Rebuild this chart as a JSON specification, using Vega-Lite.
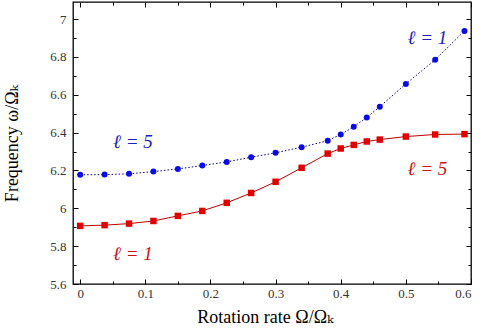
{
  "$schema": "https://vega.github.io/schema/vega-lite/v6.json",
  "width": 398,
  "height": 282,
  "autosize": "none",
  "padding": {"left": 73, "top": 2, "right": 11, "bottom": 48},
  "background": "white",
  "config": {
    "view": {"stroke": "black", "strokeWidth": 1.3},
    "font": "'Liberation Serif', 'DejaVu Serif', serif",
    "axis": {
      "labelFont": "'Liberation Serif', 'DejaVu Serif', serif",
      "titleFont": "'Liberation Serif', 'DejaVu Serif', serif",
      "labelFontSize": 13,
      "titleFontSize": 18,
      "titleFontWeight": "normal",
      "labelColor": "#333333",
      "titleColor": "black",
      "grid": false,
      "domain": false,
      "tickColor": "black",
      "tickWidth": 1
    }
  },
  "datasets": {
    "pts": [
      {"x": 0, "y": 6.177, "series": "upper"},
      {"x": 0.0375, "y": 6.178, "series": "upper"},
      {"x": 0.075, "y": 6.182, "series": "upper"},
      {"x": 0.1125, "y": 6.194, "series": "upper"},
      {"x": 0.15, "y": 6.208, "series": "upper"},
      {"x": 0.1875, "y": 6.226, "series": "upper"},
      {"x": 0.225, "y": 6.245, "series": "upper"},
      {"x": 0.2625, "y": 6.27, "series": "upper"},
      {"x": 0.3, "y": 6.293, "series": "upper"},
      {"x": 0.34, "y": 6.323, "series": "upper"},
      {"x": 0.38, "y": 6.357, "series": "upper"},
      {"x": 0.4, "y": 6.39, "series": "upper"},
      {"x": 0.42, "y": 6.431, "series": "upper"},
      {"x": 0.44, "y": 6.48, "series": "upper"},
      {"x": 0.46, "y": 6.537, "series": "upper"},
      {"x": 0.5, "y": 6.657, "series": "upper"},
      {"x": 0.545, "y": 6.785, "series": "upper"},
      {"x": 0.59, "y": 6.937, "series": "upper"},
      {"x": 0, "y": 5.907, "series": "lower"},
      {"x": 0.0375, "y": 5.911, "series": "lower"},
      {"x": 0.075, "y": 5.919, "series": "lower"},
      {"x": 0.1125, "y": 5.933, "series": "lower"},
      {"x": 0.15, "y": 5.96, "series": "lower"},
      {"x": 0.1875, "y": 5.986, "series": "lower"},
      {"x": 0.225, "y": 6.029, "series": "lower"},
      {"x": 0.2625, "y": 6.081, "series": "lower"},
      {"x": 0.3, "y": 6.14, "series": "lower"},
      {"x": 0.34, "y": 6.214, "series": "lower"},
      {"x": 0.38, "y": 6.289, "series": "lower"},
      {"x": 0.4, "y": 6.316, "series": "lower"},
      {"x": 0.42, "y": 6.335, "series": "lower"},
      {"x": 0.44, "y": 6.353, "series": "lower"},
      {"x": 0.46, "y": 6.363, "series": "lower"},
      {"x": 0.5, "y": 6.379, "series": "lower"},
      {"x": 0.545, "y": 6.39, "series": "lower"},
      {"x": 0.59, "y": 6.392, "series": "lower"}
    ],
    "labels": [
      {"x": 0.081, "y": 6.351, "label": "ℓ = 5", "series": "upper"},
      {"x": 0.533, "y": 6.9, "label": "ℓ = 1", "series": "upper"},
      {"x": 0.081, "y": 5.759, "label": "ℓ = 1", "series": "lower"},
      {"x": 0.533, "y": 6.208, "label": "ℓ = 5", "series": "lower"}
    ]
  },
  "layer": [
    {
      "data": {"name": "pts"},
      "transform": [{"filter": "datum.series === 'lower'"}],
      "mark": {"type": "line", "color": "#c00000", "strokeWidth": 1},
      "encoding": {
        "x": {"field": "x", "type": "quantitative", "scale": {"domain": [-0.011, 0.6], "nice": false, "zero": false},
          "axis": {"orient": "bottom", "values": [0, 0.1, 0.2, 0.3, 0.4, 0.5, 0.6], "format": "~g", "tickSize": -5, "labelPadding": 8, "title": "Rotation rate Ω/Ωₖ", "titlePadding": 8, "titleX": 192}},
        "y": {"field": "y", "type": "quantitative", "scale": {"domain": [5.6, 7.09], "nice": false, "zero": false},
          "axis": {"orient": "left", "values": [5.6, 5.8, 6, 6.2, 6.4, 6.6, 6.8, 7], "format": "~g", "tickSize": -5, "labelPadding": 12, "title": "Frequency ω/Ωₖ", "titlePadding": 28}}
      }
    },
    {
      "data": {"name": "pts"},
      "transform": [{"filter": "datum.series === 'lower'"}],
      "mark": {"type": "point", "shape": "square", "filled": true, "color": "#e00000", "size": 42, "opacity": 1},
      "encoding": {
        "x": {"field": "x", "type": "quantitative", "scale": {"domain": [-0.011, 0.6], "nice": false, "zero": false},
          "axis": {"orient": "bottom", "values": [0.05, 0.15, 0.25, 0.35, 0.45, 0.55], "tickSize": -3, "labels": false, "title": null}},
        "y": {"field": "y", "type": "quantitative", "scale": {"domain": [5.6, 7.09], "nice": false, "zero": false},
          "axis": {"orient": "left", "values": [5.7, 5.9, 6.1, 6.3, 6.5, 6.7, 6.9], "tickSize": -3, "labels": false, "title": null}}
      }
    },
    {
      "data": {"name": "pts"},
      "transform": [{"filter": "datum.series === 'upper'"}],
      "mark": {"type": "line", "color": "#000090", "strokeWidth": 1, "strokeDash": [1.5, 2]},
      "encoding": {
        "x": {"field": "x", "type": "quantitative", "scale": {"domain": [-0.011, 0.6], "nice": false, "zero": false},
          "axis": {"orient": "top", "values": [0, 0.1, 0.2, 0.3, 0.4, 0.5, 0.6], "tickSize": -5, "labels": false, "title": null}},
        "y": {"field": "y", "type": "quantitative", "scale": {"domain": [5.6, 7.09], "nice": false, "zero": false},
          "axis": {"orient": "right", "values": [5.6, 5.8, 6, 6.2, 6.4, 6.6, 6.8, 7], "tickSize": -5, "labels": false, "title": null}}
      }
    },
    {
      "data": {"name": "pts"},
      "transform": [{"filter": "datum.series === 'upper'"}],
      "mark": {"type": "point", "shape": "circle", "filled": true, "color": "#0a0ae6", "size": 36, "opacity": 1},
      "encoding": {
        "x": {"field": "x", "type": "quantitative", "scale": {"domain": [-0.011, 0.6], "nice": false, "zero": false},
          "axis": {"orient": "top", "values": [0.05, 0.15, 0.25, 0.35, 0.45, 0.55], "tickSize": -3, "labels": false, "title": null}},
        "y": {"field": "y", "type": "quantitative", "scale": {"domain": [5.6, 7.09], "nice": false, "zero": false},
          "axis": {"orient": "right", "values": [5.7, 5.9, 6.1, 6.3, 6.5, 6.7, 6.9], "tickSize": -3, "labels": false, "title": null}}
      }
    },
    {
      "data": {"name": "labels"},
      "mark": {"type": "text", "fontSize": 19, "fontStyle": "italic", "font": "'Liberation Serif', 'DejaVu Serif', serif", "align": "center", "baseline": "middle"},
      "encoding": {
        "x": {"field": "x", "type": "quantitative", "axis": null},
        "y": {"field": "y", "type": "quantitative", "axis": null},
        "text": {"field": "label"},
        "color": {"field": "series", "type": "nominal", "scale": {"domain": ["upper", "lower"], "range": ["#1c1cc0", "#cc1010"]}, "legend": null}
      }
    }
  ],
  "resolve": {"axis": {"x": "independent", "y": "independent"}}
}
